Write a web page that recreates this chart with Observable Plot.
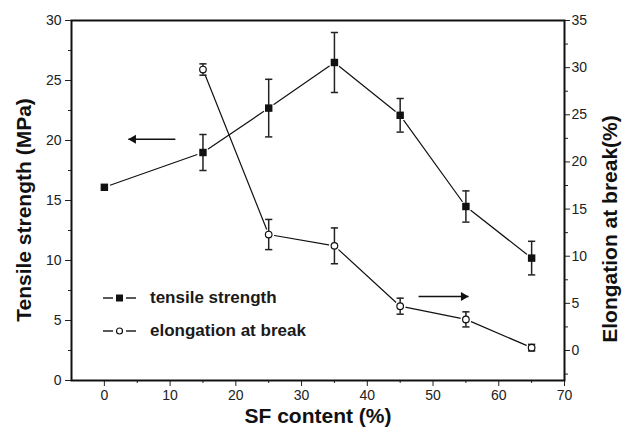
<!DOCTYPE html>
<html>
<head>
<meta charset="utf-8">
<script src="https://cdn.jsdelivr.net/npm/d3@7"></script>
<script src="https://cdn.jsdelivr.net/npm/@observablehq/plot@0.6"></script>
<style>
  body { margin: 0; background: #fff; }
  #wrap { position: relative; width: 624px; height: 433px; font-family: "Liberation Sans", Arial, sans-serif; }
  #wrap svg.plot { display: block; }
  .leg { position: absolute; left: 100px; display: flex; align-items: center; font-weight: bold; font-size: 17px; color: #1a1a1a; }
  .leg svg { margin-right: 5px; }
  .title { position: absolute; white-space: nowrap; font-weight: bold; font-size: 21px; color: #111; line-height: 1; }
</style>
</head>
<body>
<div id="wrap"></div>
<script>
// ---- data ----
const sfContent = [0, 15, 25, 35, 45, 55, 65];
const tensileStrength = [16.1, 19.0, 22.7, 26.5, 22.1, 14.5, 10.2];
const tensileError = [0, 1.5, 2.4, 2.5, 1.4, 1.3, 1.4];

const elongContent = [15, 25, 35, 45, 55, 65];
const elongation = [29.8, 12.3, 11.1, 4.7, 3.3, 0.3];
const elongationError = [0.6, 1.6, 1.9, 0.85, 0.8, 0.35];

const xMajorTicks = [0, 10, 20, 30, 40, 50, 60, 70];
const xMinorTicks = [5, 15, 25, 35, 45, 55, 65];
const leftMajorTicks = [0, 5, 10, 15, 20, 25, 30];
const leftMinorTicks = [2.5, 7.5, 12.5, 17.5, 22.5, 27.5];
const rightMajorTicks = [0, 5, 10, 15, 20, 25, 30, 35];
const rightMinorTicks = [-2.5, 2.5, 7.5, 12.5, 17.5, 22.5, 27.5, 32.5];

// annotation arrows (x in SF content, y in tensile units)
const arrowTail = [10.8, 47.8];
const arrowHead = [3.65, 55.4];
const arrowY = [20.1, 7.0];

// right axis (elongation %) mapped onto the left (MPa) scale
const toLeft = v => 2.5 + v * 27.5 / 35;
const fromLeft = d => (d - 2.5) * 35 / 27.5;

const tensile = sfContent.map((x, i) => ({x, y: tensileStrength[i], e: tensileError[i]}));
const elong = elongContent.map((x, i) => ({x, y: toLeft(elongation[i]), lo: toLeft(elongation[i] - elongationError[i]), hi: toLeft(elongation[i] + elongationError[i])}));
const tensileBars = tensile.filter(d => d.e > 0).map(d => ({x: d.x, lo: d.y - d.e, hi: d.y + d.e}));
const elongBars = elong.map(d => ({x: d.x, lo: d.lo, hi: d.hi}));
const allBars = tensileBars.concat(elongBars);
const capHalf = 0.55;
const caps = allBars.flatMap(d => [{x1: d.x - capHalf, x2: d.x + capHalf, y: d.lo}, {x1: d.x - capHalf, x2: d.x + capHalf, y: d.hi}]);
const arrows = arrowTail.map((t, i) => ({x1: t, x2: arrowHead[i], y: arrowY[i]}));
const leftArrows = arrows.filter(d => d.x2 < d.x1);
const rightArrows = arrows.filter(d => d.x2 > d.x1);

const chart = Plot.plot({
  width: 624,
  height: 433,
  marginLeft: 71,
  marginRight: 60,
  marginTop: 20,
  marginBottom: 53,
  style: {fontFamily: "Liberation Sans, Arial, sans-serif", fontSize: "14px", color: "#222", background: "#fff"},
  x: {domain: [-5, 70], label: null},
  y: {domain: [0, 30], label: null},
  marks: [
    // axes
    Plot.axisX({ticks: xMajorTicks, tickSize: 6, tickPadding: 4, label: null, tickFormat: d => d}),
    Plot.axisX({ticks: xMinorTicks, tickSize: 3, label: null, tickFormat: () => ""}),
    Plot.axisY({ticks: leftMajorTicks, tickSize: 6, tickPadding: 4, label: null, tickFormat: d => d}),
    Plot.axisY({ticks: leftMinorTicks, tickSize: 3, label: null, tickFormat: () => ""}),
    Plot.axisY({anchor: "right", ticks: rightMajorTicks.map(toLeft), tickSize: 5, tickPadding: 2, label: null, tickFormat: d => Math.round(fromLeft(d))}),
    Plot.axisY({anchor: "right", ticks: rightMinorTicks.map(toLeft), tickSize: 3, label: null, tickFormat: () => ""}),
    Plot.frame({stroke: "#111", strokeWidth: 2}),
    // lines
    Plot.line(tensile, {x: "x", y: "y", stroke: "#111", strokeWidth: 1.2}),
    Plot.line(elong, {x: "x", y: "y", stroke: "#111", strokeWidth: 1.2}),
    // white halos to leave gaps between lines and markers
    Plot.dot(tensile, {x: "x", y: "y", r: 6, fill: "#fff", stroke: null}),
    Plot.dot(elong, {x: "x", y: "y", r: 5.5, fill: "#fff", stroke: null}),
    // error bars
    Plot.ruleX(allBars, {x: "x", y1: "lo", y2: "hi", stroke: "#222", strokeWidth: 1.5}),
    Plot.link(caps, {x1: "x1", x2: "x2", y1: "y", y2: "y", stroke: "#222", strokeWidth: 1.5}),
    // markers
    Plot.dot(tensile, {x: "x", y: "y", symbol: "square", r: 4.2, fill: "#111", stroke: null}),
    Plot.dot(elong, {x: "x", y: "y", symbol: "circle", r: 3.3, fill: "#fff", stroke: "#111", strokeWidth: 1.2}),
    // arrows
    Plot.link(arrows, {x1: "x1", x2: "x2", y1: "y", y2: "y", stroke: "#111", strokeWidth: 1.5}),
    Plot.dot(leftArrows, {x: "x2", y: "y", symbol: "triangle", r: 3.3, rotate: -90, dx: 5, fill: "#111", stroke: null}),
    Plot.dot(rightArrows, {x: "x2", y: "y", symbol: "triangle", r: 3.3, rotate: 90, dx: -5, fill: "#111", stroke: null})
  ]
});

const wrap = document.getElementById("wrap");
wrap.appendChild(chart);

// axis titles
const titles = [
  {text: "Tensile strength (MPa)", cx: 23, cy: 210, rot: -90},
  {text: "Elongation at break(%)", cx: 609, cy: 229, rot: -90},
  {text: "SF content (%)", cx: 318, cy: 415, rot: 0}
];
for (const t of titles) {
  const d = document.createElement("div");
  d.className = "title";
  d.textContent = t.text;
  d.style.left = t.cx + "px";
  d.style.top = t.cy + "px";
  d.style.transform = `translate(-50%, -50%) rotate(${t.rot}deg)`;
  wrap.appendChild(d);
}

// legend
const legendItems = [
  {label: "tensile strength", symbol: "square", top: 298},
  {label: "elongation at break", symbol: "circle", top: 331}
];
for (const item of legendItems) {
  const div = document.createElement("div");
  div.className = "leg";
  div.style.top = (item.top - 10) + "px";
  div.style.height = "20px";
  const mk = item.symbol === "square"
    ? '<rect x="16" y="6.5" width="7" height="7" fill="#111"/>'
    : '<circle cx="19.5" cy="10" r="3" fill="#fff" stroke="#111" stroke-width="1.2"/>';
  div.innerHTML = `<svg width="45" height="20"><line x1="3" y1="10" x2="13" y2="10" stroke="#222" stroke-width="1.5"/><line x1="26" y1="10" x2="36" y2="10" stroke="#222" stroke-width="1.5"/>${mk}</svg><span>${item.label}</span>`;
  wrap.appendChild(div);
}
</script>
</body>
</html>
